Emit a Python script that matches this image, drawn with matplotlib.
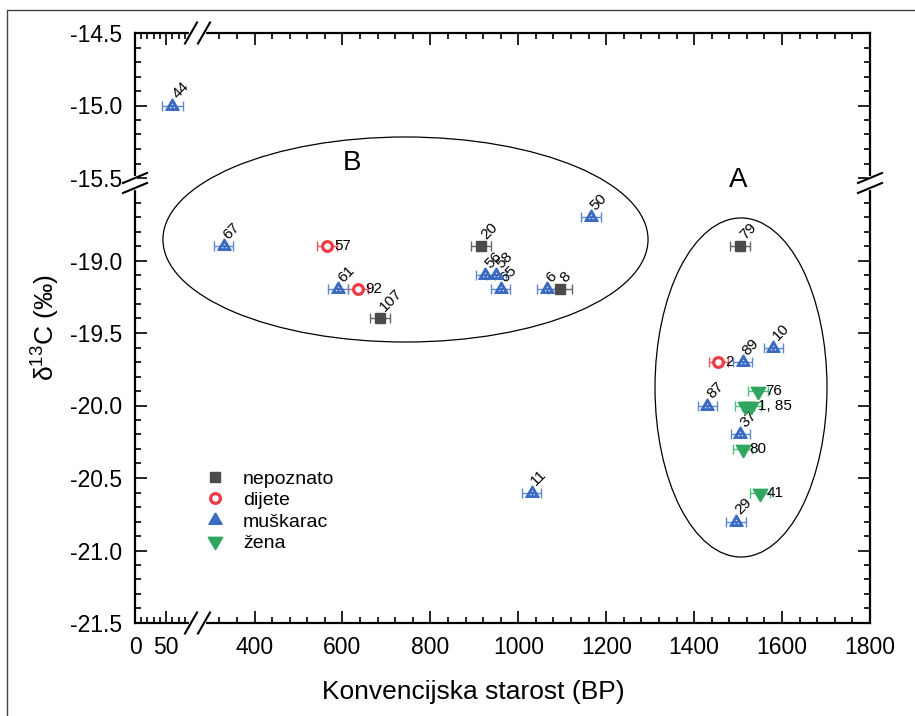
import numpy as np
import matplotlib.pyplot as plt
from matplotlib.patches import Ellipse
from matplotlib.lines import Line2D
from matplotlib.path import Path

plt.rcParams['font.family'] = ['Liberation Sans', 'DejaVu Sans']
plt.rcParams['mathtext.fontset'] = 'custom'
plt.rcParams['mathtext.rm'] = 'Liberation Sans'
plt.rcParams['mathtext.it'] = 'Liberation Sans:italic'

# nepoznato (unknown)
nep_id = ['20', '107', '8', '79']
nep_x = [915, 685, 1095, 1505]
nep_err = [22, 22, 28, 23]
nep_y = [-18.9, -19.4, -19.2, -18.9]

# dijete (child)
dij_id = ['57', '92', '2']
dij_x = [565, 635, 1455]
dij_err = [22, 22, 22]
dij_y = [-18.9, -19.2, -19.7]

# muskarac (male)
mus_id = ['44', '67', '61', '56', '58', '65', '6', '50', '11', '89', '10', '87', '37', '29']
mus_x = [60, 330, 590, 925, 950, 960, 1065, 1165, 1030, 1510, 1580, 1430, 1505, 1495]
mus_err = [17, 22, 22, 22, 22, 22, 22, 22, 22, 22, 22, 22, 22, 22]
mus_y = [-15.0, -18.9, -19.2, -19.1, -19.1, -19.2, -19.2, -18.7, -20.6, -19.7, -19.6, -20.0, -20.2, -20.8]

# zena (female)
zen_id = ['76', '', '1, 85', '80', '41']
zen_x = [1545, 1515, 1530, 1510, 1550]
zen_err = [22, 22, 22, 22, 22]
zen_y = [-19.9, -20.0, -20.0, -20.3, -20.6]

x_major = [0, 50, 400, 600, 800, 1000, 1200, 1400, 1600, 1800]
y_major = [-14.5, -15.0, -15.5, -19.0, -19.5, -20.0, -20.5, -21.0, -21.5]

# scale breaks: data breakpoints -> pixel offsets inside the axes
XB = [0, 90, 285, 1800]
XP = [0, 56, 69, 735]
YB = [-21.5, -18.5, -15.5, -14.5]
YP = [0, 435, 445, 590]
W, H = 735.0, 590.0


def piecewise(b, p):
    return (lambda v: np.interp(v, b, p), lambda v: np.interp(v, p, b))


fig = plt.figure(figsize=(9.15, 7.16), dpi=100)
ax = fig.add_axes([135 / 915, 93 / 716, W / 915, H / 716])
ax.set_xscale('function', functions=piecewise(XB, XP))
ax.set_yscale('function', functions=piecewise(YB, YP))
ax.set_xlim(0, 1800)
ax.set_ylim(-21.5, -14.5)

tri_up = Path([(0, 0.577), (-0.5, -0.289), (0.5, -0.289), (0, 0.577)])
tri_dn = Path([(0, -0.577), (-0.5, 0.289), (0.5, 0.289), (0, -0.577)])
dots = Path.make_compound_path(*[Path.circle(c, 0.05) for c in
                                 [(0, 0.14), (-0.12, -0.08), (0.12, -0.08)]])

groups = [
    (nep_x, nep_y, nep_err, nep_id, 's', '#4b4b4b', '#4b4b4b', '#666666', 7.5, 1, 45),
    (dij_x, dij_y, dij_err, dij_id, 'o', 'white', '#ee3a43', '#f0555c', 7.0, 2.3, 0),
    (mus_x, mus_y, mus_err, mus_id, tri_up, '#3a6bc0', '#3a6bc0', '#5d89d4', 11, 1, 45),
    (zen_x, zen_y, zen_err, zen_id, tri_dn, '#2fa55f', '#2fa55f', '#4fc17c', 12, 1, 0),
]
for gx, gy, ge, gid, mk, fc, ec, errc, ms, mew, rot in groups:
    ax.errorbar(gx, gy, xerr=ge, fmt='none', ecolor=errc, elinewidth=1,
                capsize=3.5, capthick=1, zorder=3)
    ax.plot(gx, gy, ls='none', marker=mk, ms=ms, mfc=fc, mec=ec, mew=mew, zorder=4)
    if mk is tri_up:
        ax.plot(gx, gy, ls='none', marker=dots, ms=4, mfc='#dfe8f7', mec='none', zorder=5)
    for x, y, t in zip(gx, gy, gid):
        if rot:
            ax.annotate(t, (x, y), xytext=(5, 3), textcoords='offset points',
                        rotation=45, rotation_mode='anchor', ha='left', va='bottom',
                        fontsize=11)
        else:
            ax.annotate(t, (x, y), xytext=(5, 0), textcoords='offset points',
                        ha='left', va='center', fontsize=11)

# ellipses around groups A and B
ax.add_patch(Ellipse((0.368, 0.650), 0.660, 0.3475, transform=ax.transAxes,
                     fill=False, lw=0.9, ec='black', clip_on=False, zorder=2))
ax.add_patch(Ellipse((0.8245, 0.3992), 0.234, 0.5746, transform=ax.transAxes,
                     fill=False, lw=0.9, ec='black', clip_on=False, zorder=2))
ax.text(0.295, 0.78, 'B', transform=ax.transAxes, fontsize=20, ha='center', va='center')
ax.text(0.8204, 0.7508, 'A', transform=ax.transAxes, fontsize=20, ha='center', va='center')

# ticks
x_minor = list(range(10, 90, 10)) + [v for v in range(320, 1800, 40) if v % 200]
y_minor = [v for v in np.round(np.arange(-21.4, -18.55, 0.1), 1) if v not in y_major]
y_minor += [v for v in np.round(np.arange(-15.4, -14.55, 0.1), 1) if v not in y_major]
ax.set_xticks(x_major)
ax.set_xticklabels([str(v) for v in x_major])
ax.set_xticks(x_minor, minor=True)
ax.set_yticks(y_major)
ax.set_yticklabels(['%.1f' % v for v in y_major])
ax.set_yticks(y_minor, minor=True)
ax.tick_params(which='both', direction='in', top=True, right=True, width=1.2,
               labelsize=16.5, pad=9)
ax.tick_params(which='major', length=8.5)
ax.tick_params(which='minor', length=4.5)
for s in ax.spines.values():
    s.set_linewidth(1.6)

# break marks
def hbreak(xp, yax):
    # gap in a horizontal spine between pixel offsets xp[0] and xp[1]
    ax.plot([xp[0] / W, xp[1] / W], [yax, yax], color='white', lw=3,
            transform=ax.transAxes, clip_on=False, zorder=6)
    for p in xp:
        ax.plot([(p - 6) / W, (p + 6) / W], [yax - 10.5 / H, yax + 10.5 / H],
                color='black', lw=1.5, transform=ax.transAxes, clip_on=False, zorder=7)


def vbreak(yp, xax):
    ax.plot([xax, xax], [yp[0] / H, yp[1] / H], color='white', lw=3,
            transform=ax.transAxes, clip_on=False, zorder=6)
    for p in yp:
        ax.plot([xax - 12 / W, xax + 12 / W], [(p - 5) / H, (p + 5) / H],
                color='black', lw=1.5, transform=ax.transAxes, clip_on=False, zorder=7)


hbreak(XP[1:3], 0)
hbreak(XP[1:3], 1)
vbreak(YP[1:3], 0)
vbreak(YP[1:3], 1)

ax.set_xlabel('Konvencijska starost (BP)', fontsize=19)
ax.set_ylabel('δ$^{13}$C (‰)', fontsize=19)
ax.xaxis.set_label_coords(0.46, -0.097)
ax.yaxis.set_label_coords(-0.10, 0.5)

handles = [
    Line2D([], [], ls='none', marker='s', ms=7.5, mfc='#4b4b4b', mec='#4b4b4b'),
    Line2D([], [], ls='none', marker='o', ms=7.0, mfc='white', mec='#ee3a43', mew=2.3),
    Line2D([], [], ls='none', marker=tri_up, ms=11, mfc='#3a6bc0', mec='#3a6bc0'),
    Line2D([], [], ls='none', marker=tri_dn, ms=12, mfc='#2fa55f', mec='#2fa55f'),
]
ax.legend(handles, ['nepoznato', 'dijete', 'muškarac', 'žena'], loc='upper left',
          bbox_to_anchor=(0.0957, 0.259), frameon=False, fontsize=14, handlelength=1,
          handletextpad=0.94, labelspacing=0.2, borderpad=0, borderaxespad=0)

# outer frame of the figure
fig.add_artist(Line2D([7 / 915, 7 / 915, 1], [0, 1 - 10 / 716, 1 - 10 / 716],
                      color='#444444', lw=1))

fig.savefig('out.png', dpi=100)
